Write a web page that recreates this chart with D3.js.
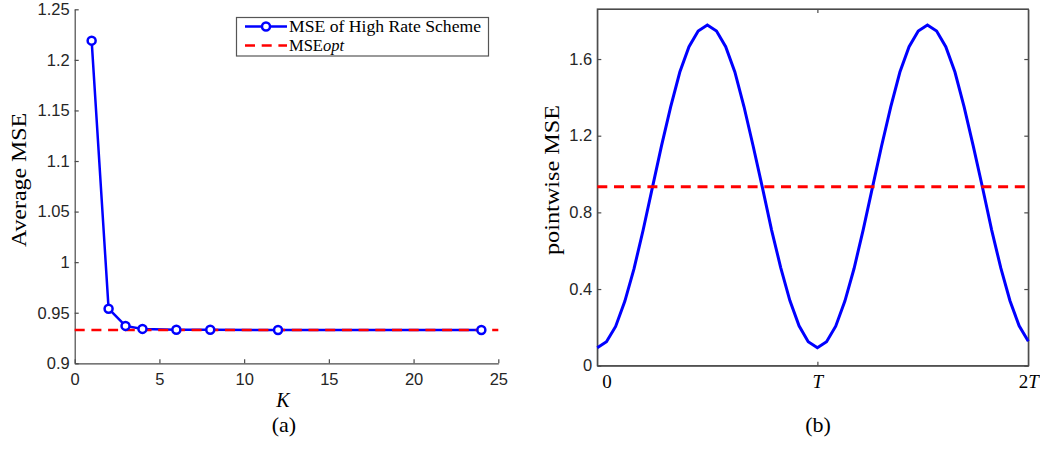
<!DOCTYPE html>
<html>
<head>
<meta charset="utf-8">
<script src="https://cdn.jsdelivr.net/npm/d3@7"></script>
<style>
  body { margin: 0; background: #fff; }
  svg { display: block; }
  .serif { font-family: "Liberation Serif", "Times New Roman", serif; fill: #000; }
</style>
</head>
<body>
<div id="chart"></div>
<script>
// (a) average MSE vs K
const kValues = [1, 2, 3, 4, 6, 8, 12, 24];
const mseHighRate = [1.219, 0.954, 0.937, 0.934, 0.9332, 0.9331, 0.933, 0.933];
const mseOpt = 0.933;
const xTicksA = [0, 5, 10, 15, 20, 25];
const yTicksA = [0.9, 0.95, 1, 1.05, 1.1, 1.15, 1.2, 1.25];
const yTickLabelsA = ["0.9", "0.95", "1", "1.05", "1.1", "1.15", "1.2", "1.25"];
const legendLabels = ["MSE of High Rate Scheme", "MSE"];

// (b) pointwise MSE over two periods (sample index 0..47, period = 24 samples)
const pointwiseMse = [
  0.094, 0.125, 0.205, 0.336, 0.505, 0.708, 0.928, 1.147, 1.350, 1.532, 1.664, 1.746, 1.777,
  1.746, 1.664, 1.533, 1.351, 1.145, 0.930, 0.709, 0.512, 0.340, 0.208, 0.125,
  0.094, 0.125, 0.206, 0.337, 0.507, 0.710, 0.929, 1.146, 1.350, 1.532, 1.664, 1.746, 1.777,
  1.746, 1.664, 1.532, 1.350, 1.146, 0.931, 0.709, 0.510, 0.339, 0.208, 0.128
];
const yTicksB = [0, 0.4, 0.8, 1.2, 1.6];
const xTickPosB = [1, 24, 47];
const xTickTextB = [["0", ""], ["", "T"], ["2", "T"]];

const width = 1040, height = 450;
const axisColor = "#4a4a4a";
const blue = "#0000ff", red = "#ff0000";

const svg = d3.select("#chart").append("svg")
  .attr("width", width)
  .attr("height", height);

svg.append("rect").attr("width", width).attr("height", height).attr("fill", "#fff");

function styleAxis(g, size) {
  g.attr("font-family", "'Liberation Sans', Arial, sans-serif")
    .attr("font-size", size);
  g.selectAll("line").attr("stroke", axisColor).attr("stroke-width", 1.2);
  g.selectAll("path").attr("stroke", axisColor).attr("stroke-width", 1.2);
  g.selectAll("text").attr("fill", "#262626");
}

// ---------- panel (a) ----------
const a = { left: 74.7, right: 498.3, top: 9.3, bottom: 363.3 };

const xA = d3.scaleLinear().domain([0, 25]).range([a.left, a.right]);
const yA = d3.scaleLinear().domain([0.9, 1.25]).range([a.bottom, a.top]);

svg.append("g")
  .attr("transform", `translate(0,${a.bottom})`)
  .call(d3.axisBottom(xA).tickValues(xTicksA).tickSizeInner(-4).tickSizeOuter(0).tickPadding(10))
  .call(g => styleAxis(g, 16.5));

svg.append("g")
  .attr("transform", `translate(${a.left},0)`)
  .call(d3.axisLeft(yA).tickValues(yTicksA).tickFormat((d, i) => yTickLabelsA[i])
    .tickSizeInner(-4).tickSizeOuter(0).tickPadding(5))
  .call(g => styleAxis(g, 16.5));

const lineA = d3.line().x((d, i) => xA(kValues[i])).y(d => yA(d));

svg.append("path")
  .datum(mseHighRate)
  .attr("d", lineA)
  .attr("fill", "none")
  .attr("stroke", blue)
  .attr("stroke-width", 2.5);

svg.append("line")
  .attr("x1", xA(0)).attr("x2", xA(25))
  .attr("y1", yA(mseOpt)).attr("y2", yA(mseOpt))
  .attr("stroke", red)
  .attr("stroke-width", 2.5)
  .attr("stroke-dasharray", "10,6.7");

svg.append("g")
  .selectAll("circle")
  .data(mseHighRate)
  .join("circle")
  .attr("cx", (d, i) => xA(kValues[i]))
  .attr("cy", d => yA(d))
  .attr("r", 4)
  .attr("fill", "#fff")
  .attr("stroke", blue)
  .attr("stroke-width", 2.5);

// legend
const legend = svg.append("g");
legend.append("rect")
  .attr("x", 236.5).attr("y", 17.5)
  .attr("width", 252).attr("height", 38.5)
  .attr("fill", "#fff")
  .attr("stroke", "#555")
  .attr("stroke-width", 1.2);
legend.append("line")
  .attr("x1", 245).attr("x2", 287).attr("y1", 26.5).attr("y2", 26.5)
  .attr("stroke", blue).attr("stroke-width", 2.5);
legend.append("circle")
  .attr("cx", 266).attr("cy", 26.5).attr("r", 4)
  .attr("fill", "#fff").attr("stroke", blue).attr("stroke-width", 2.5);
legend.append("line")
  .attr("x1", 245).attr("x2", 287).attr("y1", 45.5).attr("y2", 45.5)
  .attr("stroke", red).attr("stroke-width", 2.5)
  .attr("stroke-dasharray", "10,6.7");
legend.append("text")
  .attr("class", "serif")
  .attr("x", 289).attr("y", 31.7)
  .attr("font-size", 16.5)
  .attr("textLength", 192).attr("lengthAdjust", "spacingAndGlyphs")
  .text(legendLabels[0]);
const optText = legend.append("text")
  .attr("class", "serif")
  .attr("x", 289).attr("y", 50.7)
  .attr("font-size", 16.5);
optText.append("tspan").text(legendLabels[1]);
optText.append("tspan").attr("font-style", "italic").text("opt");

// axis titles
svg.append("text")
  .attr("class", "serif")
  .attr("transform", `translate(26,180) rotate(-90)`)
  .attr("text-anchor", "middle")
  .attr("font-size", 21.5)
  .attr("textLength", 134).attr("lengthAdjust", "spacingAndGlyphs")
  .text("Average MSE");

svg.append("text")
  .attr("class", "serif")
  .attr("x", 283).attr("y", 406.5)
  .attr("text-anchor", "middle")
  .attr("font-size", 20)
  .attr("font-style", "italic")
  .text("K");

svg.append("text")
  .attr("class", "serif")
  .attr("x", 284).attr("y", 432)
  .attr("text-anchor", "middle")
  .attr("font-size", 22)
  .text("(a)");

// ---------- panel (b) ----------
const b = { left: 597.3, right: 1028.3, top: 9, bottom: 365.7 };

const xB = d3.scaleLinear().domain([0, pointwiseMse.length - 1]).range([b.left, b.right]);
const yB = d3.scaleLinear().domain([0, 1.861]).range([b.bottom, b.top]);

svg.append("rect")
  .attr("x", b.left).attr("y", b.top)
  .attr("width", b.right - b.left).attr("height", b.bottom - b.top)
  .attr("fill", "none")
  .attr("stroke", axisColor)
  .attr("stroke-width", 1.2);

svg.append("g")
  .attr("transform", `translate(${b.left},0)`)
  .call(d3.axisLeft(yB).tickValues(yTicksB).tickFormat(d3.format("~g"))
    .tickSizeInner(-4).tickSizeOuter(0).tickPadding(5))
  .call(g => styleAxis(g, 16.5));

svg.append("g")
  .attr("transform", `translate(${b.right},0)`)
  .call(d3.axisRight(yB).tickValues(yTicksB).tickFormat("").tickSizeInner(-4).tickSizeOuter(0))
  .call(g => styleAxis(g, 16.5));

svg.append("g")
  .attr("transform", `translate(0,${b.top})`)
  .call(d3.axisTop(xB).tickValues([xTickPosB[1]]).tickFormat("").tickSizeInner(-4).tickSizeOuter(0))
  .call(g => styleAxis(g, 16.5));

const xAxisB = svg.append("g")
  .attr("transform", `translate(0,${b.bottom})`)
  .call(d3.axisBottom(xB).tickValues(xTickPosB).tickFormat("").tickSizeInner(-4).tickSizeOuter(0))
  .call(g => styleAxis(g, 16.5));

// only the T tick carries a mark
xAxisB.selectAll(".tick line").attr("opacity", (d, i) => i === 1 ? 1 : 0);
xAxisB.selectAll(".tick text").remove();
xAxisB.selectAll(".tick").each(function(d, i) {
  const t = d3.select(this).append("text")
    .attr("class", "serif")
    .attr("y", 22.3)
    .attr("text-anchor", "middle")
    .attr("font-size", 19);
  t.append("tspan").text(xTickTextB[i][0]);
  t.append("tspan").attr("font-style", "italic").text(xTickTextB[i][1]);
});

svg.append("path")
  .datum(pointwiseMse)
  .attr("d", d3.line().x((d, i) => xB(i)).y(d => yB(d)))
  .attr("fill", "none")
  .attr("stroke", blue)
  .attr("stroke-width", 3);

svg.append("line")
  .attr("x1", b.left).attr("x2", b.right)
  .attr("y1", yB(mseOpt)).attr("y2", yB(mseOpt))
  .attr("stroke", red)
  .attr("stroke-width", 3)
  .attr("stroke-dasharray", "10,6.7");

svg.append("text")
  .attr("class", "serif")
  .attr("transform", `translate(559,180) rotate(-90)`)
  .attr("text-anchor", "middle")
  .attr("font-size", 21.5)
  .attr("textLength", 150).attr("lengthAdjust", "spacingAndGlyphs")
  .text("pointwise MSE");

svg.append("text")
  .attr("class", "serif")
  .attr("x", 818).attr("y", 432)
  .attr("text-anchor", "middle")
  .attr("font-size", 22)
  .text("(b)");
</script>
</body>
</html>
